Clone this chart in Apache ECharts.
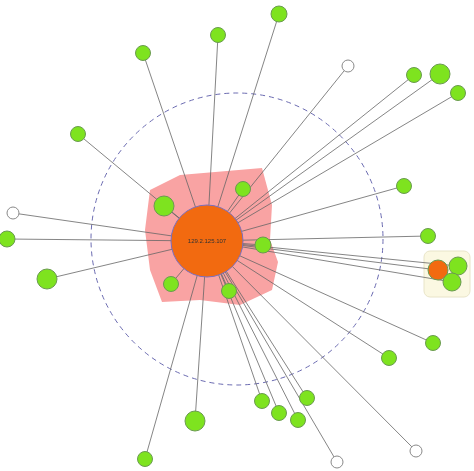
<!DOCTYPE html>
<html>
<head>
<meta charset="UTF-8">
<script src="https://cdn.jsdelivr.net/npm/echarts@6/dist/echarts.min.js"></script>
<style>html,body{margin:0;padding:0;background:#fff}#c{width:474px;height:471px}</style>
</head>
<body>
<div id="c"></div>
<script>
// node positions (x, y), diameters and kinds
var nodeX = [207, 438, 143, 218, 279, 78, 164, 243, 404, 414, 440, 458, 7, 47, 263, 171, 229, 428, 433, 389, 195, 145, 262, 279, 298, 307, 458, 452, 348, 13, 337, 416];
var nodeY = [241, 270, 53, 35, 14, 134, 206, 189, 186, 75, 74, 93, 239, 279, 245, 284, 291, 236, 343, 358, 421, 459, 401, 413, 420, 398, 266, 282, 66, 213, 462, 451];
var nodeSize = [72, 20, 15, 15, 16, 15, 20, 15, 15, 15, 20, 15, 16, 20, 16, 15, 15, 15, 15, 15, 20, 15, 15, 15, 15, 15, 18, 18, 12, 12, 12, 12];
var nodeKind = ['hub', 'hub', 'g', 'g', 'g', 'g', 'g', 'g', 'g', 'g', 'g', 'g', 'g', 'g', 'g', 'g', 'g', 'g', 'g', 'g', 'g', 'g', 'g', 'g', 'g', 'g', 'g', 'g', 'o', 'o', 'o', 'o'];
var hubLabel = '129.2.125.107';

var colors = { hub: '#f26a10', g: '#7ee31f', o: '#ffffff' };
var nodes = nodeX.map(function (x, i) {
    return {
        name: 'n' + i,
        value: [x, nodeY[i]],
        symbolSize: nodeSize[i],
        itemStyle: { color: colors[nodeKind[i]], borderColor: nodeKind[i] === 'o' ? '#888' : (i === 0 ? '#7a6fc0' : '#6a9a50'), borderWidth: 1 },
        label: i === 0 ? { show: true, formatter: hubLabel, fontSize: 6, color: '#333' } : { show: false }
    };
});
var links = [];
for (var i = 1; i < nodes.length; i++) links.push({ source: 0, target: i });

var chart = echarts.init(document.getElementById('c'));
chart.setOption({
    animation: false,
    grid: { left: 0, right: 0, top: 0, bottom: 0 },
    xAxis: { type: 'value', min: 0, max: 474, show: false },
    yAxis: { type: 'value', min: 0, max: 471, inverse: true, show: false },
    graphic: [
        { type: 'polygon', z: -1, shape: { points: [[150,190],[180,175],[262,168],[272,205],[270,240],[278,262],[272,290],[240,305],[200,300],[162,302],[150,270],[145,230]] },
          style: { fill: '#f9a3a3' } },
        { type: 'rect', z: -1, shape: { x: 424, y: 251, width: 46, height: 46, r: 6 }, style: { fill: '#fbf8e2', stroke: '#e8e4c8' } },
        { type: 'circle', z: -1, shape: { cx: 237, cy: 239, r: 146 }, style: { fill: 'none', stroke: '#6a6ab0', lineWidth: 1, lineDash: [5, 4] } }
    ],
    series: [{
        type: 'graph',
        coordinateSystem: 'cartesian2d',
        layout: 'none',
        data: nodes,
        links: links,
        lineStyle: { color: '#666', width: 0.8, opacity: 1 },
        z: 2
    }]
});
</script>
</body>
</html>
